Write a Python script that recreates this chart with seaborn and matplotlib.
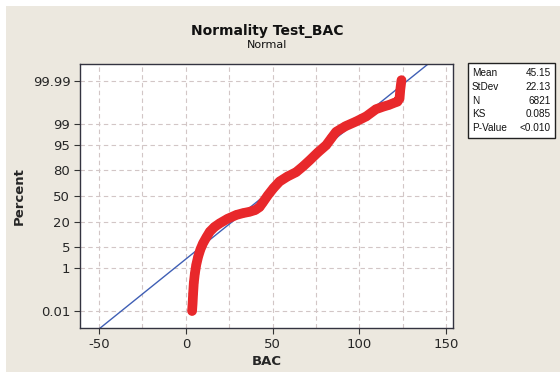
import numpy as np
import pandas as pd
import matplotlib
matplotlib.use('Agg')
import matplotlib.pyplot as plt
import seaborn as sns
from matplotlib.patches import Rectangle
from statistics import NormalDist

# Points (BAC value, cumulative percent)
bac_values = [3.6, 3.9, 4.2, 4.6, 5.2, 6.0, 7.1, 8.4, 9.9, 11.8, 13.8, 16.5, 19.5,
              24.0, 29.1, 33.0, 36.8, 40.0, 42.5, 44.5, 47.3, 50.5, 54.0, 58.5,
              63.6, 67.5, 71.3, 76.0, 80.9, 84.0, 86.6, 92.0, 98.1, 104.0,
              109.6, 114.0, 117.2, 120.0, 122.0, 123.2, 123.6, 124.3]
percent_values = [0.01, 0.025, 0.08, 0.25, 0.6, 1.3, 2.5, 4.2, 6.3, 9.0, 12.4, 15.8, 18.8,
                  23.0, 27.0, 29.0, 30.5, 32.5, 36.0, 42.0, 51.0, 60.0, 68.0, 73.5,
                  78.0, 83.0, 87.5, 92.0, 95.0, 97.0, 98.1, 98.8, 99.2, 99.5,
                  99.75, 99.81, 99.84, 99.87, 99.886, 99.92, 99.97, 99.991]

# Summary statistics from the legend box
stat_names = ['Mean', 'StDev', 'N', 'KS', 'P-Value']
stat_texts = ['45.15', '22.13', '6821', '0.085', '<0.010']
fit_mean = 45.15
fit_sd = 22.13

y_ticks = [0.01, 1, 5, 20, 50, 80, 95, 99, 99.99]
y_ticklabels = ['0.01', '1', '5', '20', '50', '80', '95', '99', '99.99']
x_ticks = [-50, 0, 50, 100, 150]
x_grid = [-50, -25, 0, 25, 50, 75, 100, 125, 150]

nd = NormalDist()
_inv = np.vectorize(nd.inv_cdf, otypes=[float])
_cdf = np.vectorize(nd.cdf, otypes=[float])


def to_z(p):
    p = np.clip(np.asarray(p, dtype=float) / 100.0, 1e-12, 1 - 1e-12)
    return _inv(p)


def from_z(z):
    return _cdf(np.asarray(z, dtype=float)) * 100.0


sns.set_theme(style='white')
plt.rcParams['font.family'] = ['DejaVu Sans']
plt.rcParams['axes.unicode_minus'] = False

fig = plt.figure(figsize=(5.6, 3.76), dpi=100)
fig.patch.set_facecolor('white')
fig.patches.append(Rectangle((6 / 560, 0.01), 1, 1 - 6 / 376 - 0.01,
                             transform=fig.transFigure, facecolor='#ECE8DF',
                             edgecolor='none', zorder=-10))

ax = fig.add_axes([80 / 560, 48 / 376, 373 / 560, 264 / 376])
ax.set_facecolor('white')
ax.set_yscale('function', functions=(to_z, from_z))

# grid
for gx in x_grid:
    ax.axvline(gx, color='#D2C6C6', linestyle=(0, (4, 3)), linewidth=0.8, zorder=0)
for gy in y_ticks:
    ax.axhline(gy, color='#D2C6C6', linestyle=(0, (4, 3)), linewidth=0.8, zorder=0)

# fitted normal line
fit_x = np.array([-65.0, 160.0])
fit_p = from_z((fit_x - fit_mean) / fit_sd)
ax.plot(fit_x, fit_p, color='#3F5FB5', linewidth=1.0, zorder=2)

df = pd.DataFrame({'BAC': bac_values, 'Percent': percent_values})
sns.lineplot(data=df, x='BAC', y='Percent', sort=False, color='#E8282B',
             linewidth=7, solid_capstyle='round', ax=ax, zorder=3)
sns.scatterplot(data=df, x='BAC', y='Percent', color='#E8282B', s=40,
                edgecolor='none', ax=ax, zorder=4)

ax.set_xlim(-61, 154)
ax.set_ylim(from_z(-4.27), from_z(4.27))
ax.set_xticks(x_ticks)
ax.set_yticks(y_ticks)
ax.set_yticklabels(y_ticklabels)
ax.minorticks_off()
ax.tick_params(axis='both', labelsize=9.5, length=4, width=0.8, color='#333333',
               direction='out', pad=3, bottom=True, left=True)
for s in ax.spines.values():
    s.set_color('#333340')
    s.set_linewidth(1.0)

ax.set_xlabel('BAC', fontsize=9.5, fontweight='bold', labelpad=3)
ax.set_ylabel('Percent', fontsize=9.5, fontweight='bold', labelpad=5)

fig.text(267 / 560, 1 - 31 / 376, 'Normality Test_BAC', ha='center', va='center',
         fontsize=10, fontweight='bold', color='#111111')
fig.text(267 / 560, 1 - 45 / 376, 'Normal', ha='center', va='center',
         fontsize=8, color='#111111')

# statistics box
box = Rectangle((468 / 560, 1 - 138 / 376), 87 / 560, 75 / 376,
                transform=fig.transFigure, facecolor='white',
                edgecolor='#222222', linewidth=1.0)
fig.patches.append(box)
for i, (name, val) in enumerate(zip(stat_names, stat_texts)):
    yy = 1 - (73 + i * 13.8) / 376
    fig.text(472 / 560, yy, name, ha='left', va='center', fontsize=7.2,
             family='Liberation Sans', color='#111111')
    fig.text(551 / 560, yy, val, ha='right', va='center', fontsize=7.2,
             family='Liberation Sans', color='#111111')

fig.savefig('out.png', dpi=100)
